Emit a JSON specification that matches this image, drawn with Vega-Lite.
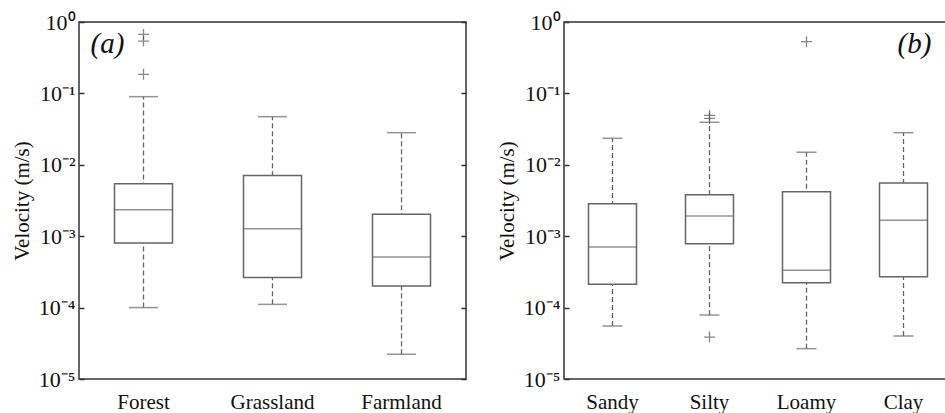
{
  "$schema": "https://vega.github.io/schema/vega-lite/v6.json",
  "background": "white",
  "padding": {"left": 10, "top": 10, "right": 0, "bottom": 0},
  "config": {
    "font": "Liberation Serif",
    "view": {"stroke": "#333", "strokeWidth": 1.5},
    "axis": {"labelFont": "Liberation Serif", "titleFont": "Liberation Serif", "labelColor": "#111", "titleColor": "#111", "grid": false},
    "text": {"font": "Liberation Serif"}
  },
  "spacing": 27,
  "hconcat": [
    {
      "width": 387,
      "height": 357,
      "data": {"values": [
        {"group": "Forest", "lower": 0.0001, "q1": 0.0008, "median": 0.00235, "q3": 0.00544, "upper": 0.09},
        {"group": "Grassland", "lower": 0.000111, "q1": 0.000265, "median": 0.00127, "q3": 0.0071, "upper": 0.0472},
        {"group": "Farmland", "lower": 0.0000222, "q1": 0.000201, "median": 0.000512, "q3": 0.00203, "upper": 0.0282}
      ]},
      "encoding": {
        "x": {"field": "group", "type": "nominal", "sort": ["Forest", "Grassland", "Farmland"],
          "scale": {"paddingInner": 0, "paddingOuter": 0},
          "axis": {"title": null, "ticks": false, "domain": false, "labelAngle": 0, "labelFontSize": 21, "labelPadding": 12}}
      },
      "layer": [
        {
          "layer": [
            {
              "mark": {"type": "rule", "strokeDash": [5, 3], "color": "#666", "strokeWidth": 1.3},
              "encoding": {
                "y": {"field": "lower", "type": "quantitative",
                  "scale": {"type": "log", "domain": [0.00001, 1], "nice": false},
                  "axis": {"title": "Velocity (m/s)", "titleFontSize": 21, "titleFontWeight": "normal", "titlePadding": 6,
                    "values": [0.00001, 0.0001, 0.001, 0.01, 0.1, 1], "tickSize": -5, "tickColor": "#333", "tickWidth": 1.5, "domain": false,
                    "labelFontSize": 22, "labelPadding": 9,
                    "labelExpr": "'10' + (round(log(datum.value)/LN10)==0 ? '⁰' : round(log(datum.value)/LN10)==-1 ? '⁻¹' : round(log(datum.value)/LN10)==-2 ? '⁻²' : round(log(datum.value)/LN10)==-3 ? '⁻³' : round(log(datum.value)/LN10)==-4 ? '⁻⁴' : '⁻⁵')"}},
                "y2": {"field": "upper"}
              }
            },
            {
              "mark": {"type": "bar", "size": 58, "fill": "white", "stroke": "#666", "strokeWidth": 1.5},
              "encoding": {"y": {"field": "q1", "type": "quantitative"}, "y2": {"field": "q3"}}
            },
            {
              "mark": {"type": "tick", "size": 58, "color": "#666", "thickness": 1.5, "orient": "horizontal"},
              "encoding": {"y": {"field": "median", "type": "quantitative"}}
            },
            {
              "mark": {"type": "tick", "size": 29, "color": "#666", "thickness": 1.5, "orient": "horizontal"},
              "encoding": {"y": {"field": "lower", "type": "quantitative"}}
            },
            {
              "data": {"values": [
                {"group": "Forest", "v": 0.67},
                {"group": "Forest", "v": 0.54},
                {"group": "Forest", "v": 0.185}
              ]},
              "mark": {"type": "point", "shape": "M-1,0H1M0,-1V1", "size": 121, "filled": false, "stroke": "#555", "strokeWidth": 1.3},
              "encoding": {"y": {"field": "v", "type": "quantitative"}}
            },
            {
              "data": {"values": [{"group": "Forest", "v": 0.49, "label": "(a)"}]},
              "mark": {"type": "text", "fontSize": 29, "fontStyle": "italic", "dx": -36, "color": "#111"},
              "encoding": {"y": {"field": "v", "type": "quantitative"}, "text": {"field": "label"}}
            }
          ]
        },
        {
          "mark": {"type": "tick", "size": 29, "color": "#666", "thickness": 1.5, "orient": "horizontal"},
          "encoding": {"y": {"field": "upper", "type": "quantitative",
            "axis": {"orient": "right", "title": null, "labels": false, "domain": false,
              "values": [0.00001, 0.0001, 0.001, 0.01, 0.1, 1], "tickSize": -5, "tickColor": "#333", "tickWidth": 1.5}}}
        }
      ],
      "resolve": {"axis": {"y": "independent"}}
    },
    {
      "width": 388,
      "height": 357,
      "data": {"values": [
        {"group": "Sandy", "lower": 0.0000552, "q1": 0.000212, "median": 0.000706, "q3": 0.00285, "upper": 0.0235},
        {"group": "Silty", "lower": 0.0000787, "q1": 0.000785, "median": 0.00192, "q3": 0.00381, "upper": 0.0394},
        {"group": "Loamy", "lower": 0.0000266, "q1": 0.000223, "median": 0.000333, "q3": 0.0042, "upper": 0.015},
        {"group": "Clay", "lower": 0.00004, "q1": 0.000271, "median": 0.00167, "q3": 0.00556, "upper": 0.0282}
      ]},
      "encoding": {
        "x": {"field": "group", "type": "nominal", "sort": ["Sandy", "Silty", "Loamy", "Clay"],
          "scale": {"paddingInner": 0, "paddingOuter": 0},
          "axis": {"title": null, "ticks": false, "domain": false, "labelAngle": 0, "labelFontSize": 21, "labelPadding": 12}}
      },
      "layer": [
        {
          "mark": {"type": "rule", "strokeDash": [5, 3], "color": "#666", "strokeWidth": 1.3},
          "encoding": {
            "y": {"field": "lower", "type": "quantitative",
              "scale": {"type": "log", "domain": [0.00001, 1], "nice": false},
              "axis": {"title": "Velocity (m/s)", "titleFontSize": 21, "titleFontWeight": "normal", "titlePadding": 6,
                "values": [0.00001, 0.0001, 0.001, 0.01, 0.1, 1], "tickSize": -5, "tickColor": "#333", "tickWidth": 1.5, "domain": false,
                "labelFontSize": 22, "labelPadding": 9,
                "labelExpr": "'10' + (round(log(datum.value)/LN10)==0 ? '⁰' : round(log(datum.value)/LN10)==-1 ? '⁻¹' : round(log(datum.value)/LN10)==-2 ? '⁻²' : round(log(datum.value)/LN10)==-3 ? '⁻³' : round(log(datum.value)/LN10)==-4 ? '⁻⁴' : '⁻⁵')"}},
            "y2": {"field": "upper"}
          }
        },
        {
          "mark": {"type": "bar", "size": 48, "fill": "white", "stroke": "#666", "strokeWidth": 1.5},
          "encoding": {"y": {"field": "q1", "type": "quantitative"}, "y2": {"field": "q3"}}
        },
        {
          "mark": {"type": "tick", "size": 48, "color": "#666", "thickness": 1.5, "orient": "horizontal"},
          "encoding": {"y": {"field": "median", "type": "quantitative"}}
        },
        {
          "mark": {"type": "tick", "size": 20, "color": "#666", "thickness": 1.5, "orient": "horizontal"},
          "encoding": {"y": {"field": "lower", "type": "quantitative"}}
        },
        {
          "mark": {"type": "tick", "size": 20, "color": "#666", "thickness": 1.5, "orient": "horizontal"},
          "encoding": {"y": {"field": "upper", "type": "quantitative"}}
        },
        {
          "data": {"values": [
            {"group": "Silty", "v": 0.0493},
            {"group": "Silty", "v": 0.0448},
            {"group": "Silty", "v": 0.0000387},
            {"group": "Loamy", "v": 0.53}
          ]},
          "mark": {"type": "point", "shape": "M-1,0H1M0,-1V1", "size": 121, "filled": false, "stroke": "#555", "strokeWidth": 1.3},
          "encoding": {"y": {"field": "v", "type": "quantitative"}}
        },
        {
          "data": {"values": [{"group": "Clay", "v": 0.49, "label": "(b)"}]},
          "mark": {"type": "text", "fontSize": 29, "fontStyle": "italic", "dx": 11, "color": "#111"},
          "encoding": {"y": {"field": "v", "type": "quantitative"}, "text": {"field": "label"}}
        }
      ]
    }
  ]
}
